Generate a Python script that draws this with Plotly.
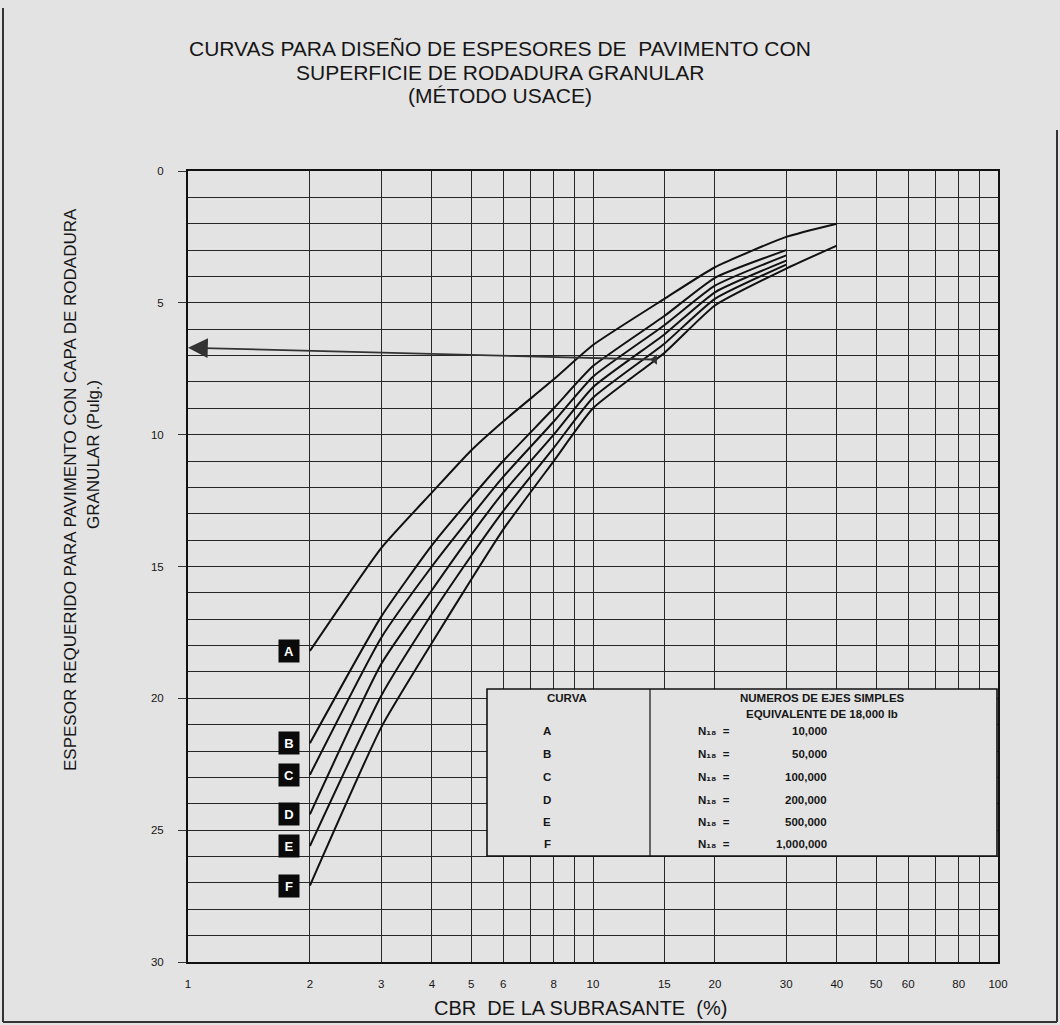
import math
import plotly.graph_objects as go

# ---------------- data ----------------
CBR = [2, 3, 4, 5, 6, 8, 10, 15, 20, 30, 40]
curve_A = [18.2, 14.3, 12.2, 10.6, 9.5, 7.9, 6.6, 4.85, 3.65, 2.5, 2.0]
curve_B = [21.7, 16.9, 14.2, 12.4, 11.0, 9.0, 7.4, 5.5, 4.05, 3.0, None]
curve_C = [22.9, 17.7, 15.0, 13.1, 11.6, 9.5, 7.8, 5.85, 4.35, 3.2, None]
curve_D = [24.4, 18.7, 15.9, 13.8, 12.2, 10.0, 8.2, 6.2, 4.6, 3.4, None]
curve_E = [25.6, 19.9, 16.8, 14.6, 12.9, 10.5, 8.6, 6.55, 4.85, 3.55, None]
curve_F = [27.1, 21.1, 17.9, 15.5, 13.6, 11.0, 9.0, 6.9, 5.1, 3.7, 2.83]
CURVES = [curve_A, curve_B, curve_C, curve_D, curve_E, curve_F]
LETTERS = ["A", "B", "C", "D", "E", "F"]
N18_VALUES = ["10,000", "50,000", "100,000", "200,000", "500,000", "1,000,000"]

X_TICKS = [1, 2, 3, 4, 5, 6, 8, 10, 15, 20, 30, 40, 50, 60, 80, 100]
X_MINOR = [7, 9, 70, 90]
Y_TICKS = [0, 5, 10, 15, 20, 25, 30]

# example reading (arrow)
EX_CBR = 14.2
EX_THICK_CURVE = 7.15
EX_THICK_AXIS = 6.7

# ---------------- layout geometry ----------------
W, H = 1060, 1025
L, R, T, B = 188, 998, 171, 962
PW, PH = R - L, B - T

def px(x):
    return (x - L) / PW

def py(y):
    return (B - y) / PH

PAPER = "#e3e3e3"
INK = "#111111"
TXT = "#161616"
FONT = "Liberation Sans, Arial, sans-serif"

fig = go.Figure()

for ys, name in zip(CURVES, LETTERS):
    xs = [c for c, v in zip(CBR, ys) if v is not None]
    vs = [v for v in ys if v is not None]
    fig.add_trace(go.Scatter(
        x=xs, y=vs, mode="lines", name=name,
        line=dict(color=INK, width=2, shape="spline", smoothing=0.5),
        showlegend=False, hoverinfo="skip"))

# example marker on curve
fig.add_trace(go.Scatter(
    x=[EX_CBR], y=[EX_THICK_CURVE], mode="markers",
    marker=dict(symbol="triangle-left", size=9, color="#333333"),
    showlegend=False, hoverinfo="skip"))

fig.add_annotation(
    x=math.log10(1), y=EX_THICK_AXIS, xref="x", yref="y",
    ax=math.log10(EX_CBR), ay=EX_THICK_CURVE, axref="x", ayref="y",
    text="", showarrow=True, arrowhead=2, arrowsize=2.2, arrowwidth=1.8,
    arrowcolor="#333333", standoff=0, startstandoff=0)

# curve letter boxes
for ys, name in zip(CURVES, LETTERS):
    fig.add_annotation(
        x=math.log10(CBR[0]), y=ys[0], xref="x", yref="y",
        text="<b>%s</b>" % name, showarrow=False,
        xanchor="right", yanchor="middle", xshift=-10,
        font=dict(family=FONT, size=13, color="white"),
        bgcolor="#0a0a0a", borderpad=3, width=14, height=16)

# legend table
tbl_l, tbl_r, tbl_t, tbl_b, tbl_div = 487, 997, 689, 856, 650
fig.add_shape(type="rect", xref="paper", yref="paper",
              x0=px(tbl_l), x1=px(tbl_r), y0=py(tbl_b), y1=py(tbl_t),
              fillcolor=PAPER, line=dict(color=INK, width=1.6), layer="above")
fig.add_shape(type="line", xref="paper", yref="paper",
              x0=px(tbl_div), x1=px(tbl_div), y0=py(tbl_b), y1=py(tbl_t),
              line=dict(color=INK, width=1.2), layer="above")

tfont = dict(family=FONT, size=11.5, color=TXT)
fig.add_annotation(x=px(567), y=py(698), xref="paper", yref="paper",
                   text="<b>CURVA</b>", showarrow=False, font=tfont,
                   xanchor="center", yanchor="middle")
fig.add_annotation(x=px(822), y=py(698), xref="paper", yref="paper",
                   text="<b>NUMEROS DE EJES SIMPLES</b>", showarrow=False,
                   font=tfont, xanchor="center", yanchor="middle")
fig.add_annotation(x=px(822), y=py(714), xref="paper", yref="paper",
                   text="<b>EQUIVALENTE DE 18,000 lb</b>", showarrow=False,
                   font=tfont, xanchor="center", yanchor="middle")
row_y = [731, 754, 777, 800, 822, 844]
for name, val, ry in zip(LETTERS, N18_VALUES, row_y):
    fig.add_annotation(x=px(547), y=py(ry), xref="paper", yref="paper",
                       text="<b>%s</b>" % name, showarrow=False, font=tfont,
                       xanchor="center", yanchor="middle")
    fig.add_annotation(x=px(696), y=py(ry), xref="paper", yref="paper",
                       text="<b>N\u2081\u2088  =</b>", showarrow=False,
                       font=tfont, xanchor="left", yanchor="middle")
    fig.add_annotation(x=px(829), y=py(ry), xref="paper", yref="paper",
                       text="<b>%s</b>" % val, showarrow=False, font=tfont,
                       xanchor="right", yanchor="middle")

# titles
title_lines = ["CURVAS PARA DISEÑO DE ESPESORES DE  PAVIMENTO CON",
               "SUPERFICIE DE RODADURA GRANULAR",
               "(MÉTODO USACE)"]
for line, yy in zip(title_lines, [48, 72, 95]):
    fig.add_annotation(x=px(500), y=py(yy), xref="paper", yref="paper",
                       text=line, showarrow=False,
                       font=dict(family=FONT, size=21, color=TXT),
                       xanchor="center", yanchor="middle")

fig.add_annotation(x=px(70), y=py(490), xref="paper", yref="paper",
                   text="ESPESOR REQUERIDO PARA PAVIMENTO CON CAPA DE RODADURA",
                   textangle=-90, showarrow=False,
                   font=dict(family=FONT, size=17, color=TXT),
                   xanchor="center", yanchor="middle")
fig.add_annotation(x=px(93), y=py(455), xref="paper", yref="paper",
                   text="GRANULAR (Pulg.)",
                   textangle=-90, showarrow=False,
                   font=dict(family=FONT, size=17, color=TXT),
                   xanchor="center", yanchor="middle")
fig.add_annotation(x=px(580), y=py(1008), xref="paper", yref="paper",
                   text="CBR  DE LA SUBRASANTE  (%)", showarrow=False,
                   font=dict(family=FONT, size=20, color=TXT),
                   xanchor="center", yanchor="middle")

# page border (scan edges)
for (x0, y0, x1, y1) in [(3, 8, 3, 1022), (3, 1022, 1057, 1022), (1057, 130, 1057, 1022)]:
    fig.add_shape(type="line", xref="paper", yref="paper",
                  x0=px(x0), x1=px(x1), y0=py(y0), y1=py(y1),
                  line=dict(color="#333333", width=2))

grid = dict(color="#262626", width=1.2)
fig.update_xaxes(
    type="log", range=[0, 2],
    tickmode="array", tickvals=X_TICKS, ticktext=[str(v) for v in X_TICKS],
    showgrid=True, gridcolor=grid["color"], gridwidth=grid["width"],
    minor=dict(tickmode="array", tickvals=X_MINOR, showgrid=True,
               gridcolor=grid["color"], gridwidth=grid["width"], ticks=""),
    ticks="", ticklabelstandoff=10,
    tickfont=dict(family=FONT, size=11.5, color=TXT),
    showline=True, mirror=True, linecolor=INK, linewidth=2, zeroline=False)
fig.update_yaxes(
    range=[30, 0], tickmode="array", tickvals=Y_TICKS,
    showgrid=True, gridcolor=grid["color"], gridwidth=grid["width"],
    minor=dict(dtick=1, showgrid=True, gridcolor=grid["color"],
               gridwidth=grid["width"], ticks=""),
    ticks="outside", ticklen=8, tickcolor="#333333", tickwidth=1.2,
    ticklabelstandoff=12,
    tickfont=dict(family=FONT, size=11.5, color=TXT),
    showline=True, mirror=True, linecolor=INK, linewidth=2, zeroline=False)

fig.update_layout(
    width=W, height=H,
    margin=dict(l=L, r=W - R, t=T, b=H - B, pad=0),
    paper_bgcolor=PAPER, plot_bgcolor=PAPER,
    showlegend=False)

fig.write_html("out.html", config={"displayModeBar": False},
               post_script="document.body.style.margin='0';")
